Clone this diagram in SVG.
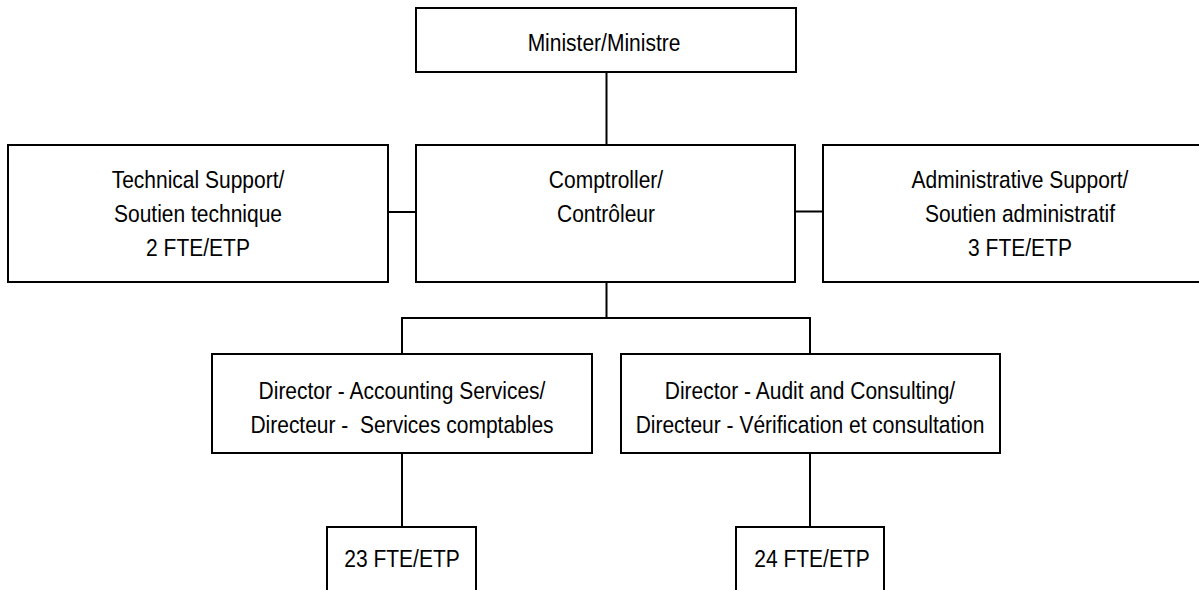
<svg xmlns="http://www.w3.org/2000/svg" width="1199" height="590" viewBox="0 0 1199 590">
<style>
.box{fill:#fff;stroke:#000;stroke-width:2}
.ln{stroke:#000;stroke-width:2;fill:none}
text{font-family:"Liberation Sans",Arial,sans-serif;font-size:24px;fill:#000;text-anchor:middle;white-space:pre}
</style>
<rect width="1199" height="590" fill="#fff"/>
<g id="connectors">
<line class="ln" x1="606.5" y1="72" x2="606.5" y2="145"/>
<line class="ln" x1="388" y1="212" x2="416" y2="212"/>
<line class="ln" x1="795" y1="211.5" x2="823" y2="211.5"/>
<polyline class="ln" points="606.5,282 606.5,318"/>
<polyline class="ln" points="402,354 402,318 810,318 810,354"/>
<line class="ln" x1="402" y1="453" x2="402" y2="527"/>
<line class="ln" x1="810" y1="453" x2="810" y2="527"/>
</g>
<g id="minister">
<rect class="box" x="416" y="8" width="380" height="64"/>
<text transform="translate(604,0) scale(0.875,1)" y="51">Minister/Ministre</text>
</g>
<g id="technical">
<rect class="box" x="8" y="145" width="380" height="137"/>
<g transform="translate(198,0) scale(0.875,1)">
<text y="188">Technical Support/</text>
<text y="222">Soutien technique</text>
<text y="256">2 FTE/ETP</text>
</g>
</g>
<g id="comptroller">
<rect class="box" x="416" y="145" width="379" height="137"/>
<g transform="translate(606,0) scale(0.875,1)">
<text y="188">Comptroller/</text>
<text y="222">Contrôleur</text>
</g>
</g>
<g id="administrative">
<rect class="box" x="823" y="145" width="400" height="137"/>
<g transform="translate(1020,0) scale(0.875,1)">
<text y="188">Administrative Support/</text>
<text y="222">Soutien administratif</text>
<text y="256">3 FTE/ETP</text>
</g>
</g>
<g id="dir-accounting">
<rect class="box" x="212" y="354" width="380" height="99"/>
<g transform="translate(402,0) scale(0.875,1)">
<text y="399">Director - Accounting Services/</text>
<text y="433">Directeur -  Services comptables</text>
</g>
</g>
<g id="dir-audit">
<rect class="box" x="621" y="354" width="379" height="99"/>
<g transform="translate(810,0) scale(0.875,1)">
<text y="399">Director - Audit and Consulting/</text>
<text y="433">Directeur - Vérification et consultation</text>
</g>
</g>
<g id="fte-accounting">
<rect class="box" x="327" y="527" width="149" height="100"/>
<text transform="translate(402,0) scale(0.875,1)" y="567">23 FTE/ETP</text>
</g>
<g id="fte-audit">
<rect class="box" x="736" y="527" width="148" height="100"/>
<text transform="translate(812,0) scale(0.875,1)" y="567">24 FTE/ETP</text>
</g>
</svg>
